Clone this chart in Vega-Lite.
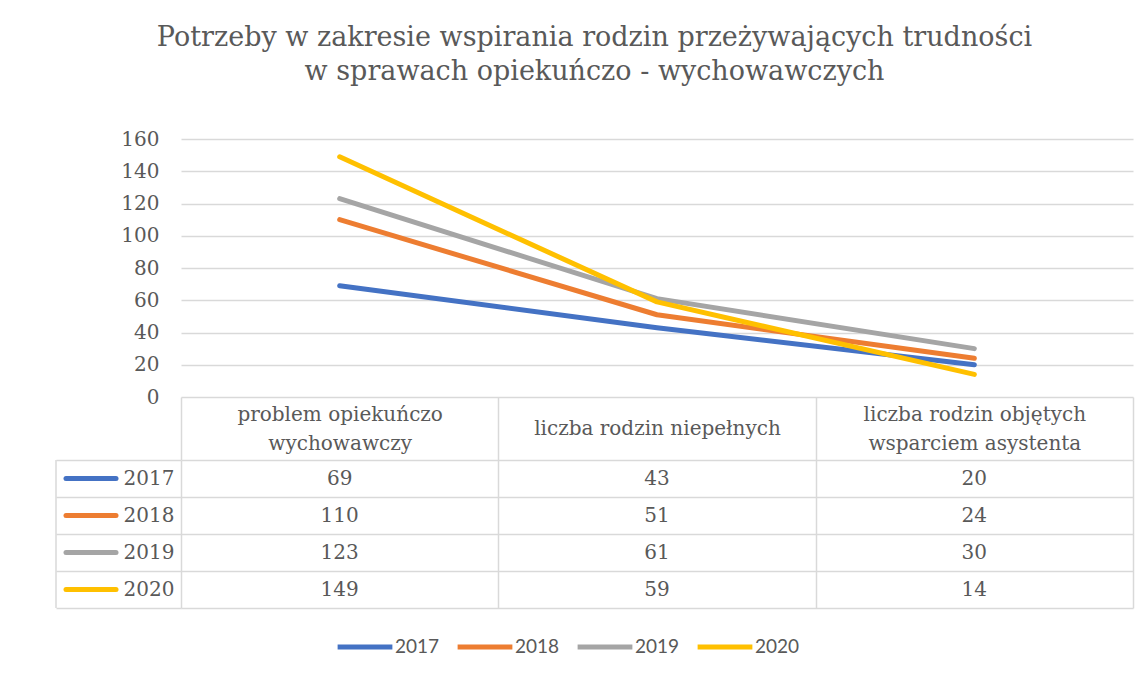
{
  "$schema": "https://vega.github.io/schema/vega-lite/v6.json",
  "background": "white",
  "padding": {"left": 55, "top": 24, "right": 10, "bottom": 5},
  "title": {
    "text": ["Potrzeby w zakresie wspirania rodzin przeżywających trudności", "w sprawach opiekuńczo - wychowawczych"],
    "anchor": "middle",
    "font": "DejaVu Serif",
    "fontSize": 27,
    "fontWeight": "normal",
    "color": "#595959",
    "lineHeight": 34,
    "offset": 43
  },
  "datasets": {
    "dane": [
      {"kategoria": "problem opiekuńczo wychowawczy", "rok": "2017", "wartosc": 69},
      {"kategoria": "liczba rodzin niepełnych", "rok": "2017", "wartosc": 43},
      {"kategoria": "liczba rodzin objętych wsparciem asystenta", "rok": "2017", "wartosc": 20},
      {"kategoria": "problem opiekuńczo wychowawczy", "rok": "2018", "wartosc": 110},
      {"kategoria": "liczba rodzin niepełnych", "rok": "2018", "wartosc": 51},
      {"kategoria": "liczba rodzin objętych wsparciem asystenta", "rok": "2018", "wartosc": 24},
      {"kategoria": "problem opiekuńczo wychowawczy", "rok": "2019", "wartosc": 123},
      {"kategoria": "liczba rodzin niepełnych", "rok": "2019", "wartosc": 61},
      {"kategoria": "liczba rodzin objętych wsparciem asystenta", "rok": "2019", "wartosc": 30},
      {"kategoria": "problem opiekuńczo wychowawczy", "rok": "2020", "wartosc": 149},
      {"kategoria": "liczba rodzin niepełnych", "rok": "2020", "wartosc": 59},
      {"kategoria": "liczba rodzin objętych wsparciem asystenta", "rok": "2020", "wartosc": 14}
    ]
  },
  "spacing": 63,
  "bounds": "flush",
  "resolve": {"scale": {"color": "shared"}},
  "vconcat": [
    {
      "width": 952,
      "height": 258,
      "data": {"name": "dane"},
      "mark": {"type": "line", "strokeWidth": 5, "strokeCap": "round", "strokeJoin": "round"},
      "encoding": {
        "x": {
          "field": "kategoria",
          "type": "nominal",
          "bandPosition": 0.5,
          "scale": {"type": "band", "paddingInner": 0, "paddingOuter": 0, "domain": ["problem opiekuńczo wychowawczy", "liczba rodzin niepełnych", "liczba rodzin objętych wsparciem asystenta"]},
          "axis": {
            "title": null,
            "orient": "bottom",
            "domain": false,
            "grid": false,
            "ticks": true,
            "tickBand": "extent",
            "tickSize": 63,
            "tickColor": "#d9d9d9",
            "tickWidth": 1.5,
            "labelAngle": 0,
            "labelPadding": -46,
            "labelBaseline": {"condition": {"test": "indexof(datum.value + '', 'niepełnych') >= 0", "value": "line-top"}, "value": "middle"},
            "labelAlign": "center",
            "labelLineHeight": 29,
            "labelLimit": 0,
            "labelFont": "DejaVu Serif",
            "labelFontSize": 20,
            "labelColor": "#595959",
            "labelOverlap": false,
            "labelFlush": false,
            "labelBound": false,
            "labelExpr": "indexof(datum.label, 'opiekuńczo ') >= 0 ? ['problem opiekuńczo', 'wychowawczy'] : (indexof(datum.label, 'objętych ') >= 0 ? ['liczba rodzin objętych', 'wsparciem asystenta'] : datum.label)"
          }
        },
        "y": {
          "field": "wartosc",
          "type": "quantitative",
          "scale": {"domain": [0, 160], "nice": false},
          "axis": {
            "title": null,
            "values": [0, 20, 40, 60, 80, 100, 120, 140, 160],
            "domain": false,
            "ticks": false,
            "labelPadding": 22,
            "labelFont": "DejaVu Serif",
            "labelFontSize": 20,
            "labelColor": "#595959",
            "gridColor": "#d9d9d9",
            "gridWidth": 1.5
          }
        },
        "color": {
          "field": "rok",
          "type": "nominal",
          "scale": {"domain": ["2017", "2018", "2019", "2020"], "range": ["#4472C4", "#ED7D31", "#A5A5A5", "#FFC000"]},
          "legend": {
            "title": null,
            "orient": "none",
            "direction": "horizontal",
            "legendX": 154,
            "legendY": 478,
            "symbolType": "stroke",
            "symbolStrokeWidth": 5,
            "symbolSize": 3000,
            "labelFont": "Lato",
            "labelFontSize": 19,
            "labelColor": "#595959",
            "labelOffset": 0,
            "columnPadding": 7
          }
        }
      }
    },
    {
      "width": 952,
      "height": 148,
      "data": {"name": "dane"},
      "encoding": {
        "y": {
          "field": "rok",
          "type": "nominal",
          "scale": {"type": "band", "paddingInner": 0, "paddingOuter": 0, "domain": ["2017", "2018", "2019", "2020"]},
          "axis": {
            "title": null,
            "domain": false,
            "grid": true,
            "tickBand": "extent",
            "ticks": true,
            "tickSize": 125,
            "tickColor": "#d9d9d9",
            "tickWidth": 1.5,
            "gridColor": "#d9d9d9",
            "gridWidth": 1.5,
            "labelPadding": -118,
            "labelFont": "DejaVu Serif",
            "labelFontSize": 20,
            "labelColor": "#595959",
            "labelAlign": "right",
            "labelBaseline": "middle"
          }
        }
      },
      "layer": [
        {
          "mark": {"type": "text", "font": "DejaVu Serif", "fontSize": 20, "color": "#595959", "baseline": "middle"},
          "encoding": {
            "x": {
              "field": "kategoria",
              "type": "nominal",
              "bandPosition": 0.5,
              "scale": {"type": "band", "paddingInner": 0, "paddingOuter": 0, "domain": ["problem opiekuńczo wychowawczy", "liczba rodzin niepełnych", "liczba rodzin objętych wsparciem asystenta"]},
              "axis": {
                "title": null,
                "orient": "top",
                "labels": false,
                "ticks": false,
                "domain": false,
                "grid": true,
                "tickBand": "extent",
                "gridColor": "#d9d9d9",
                "gridWidth": 1.5
              }
            },
            "text": {"field": "wartosc", "type": "quantitative"}
          }
        },
        {
          "transform": [{"filter": "datum.kategoria === 'problem opiekuńczo wychowawczy'"}],
          "mark": {"type": "rule", "strokeWidth": 5, "strokeCap": "round", "xOffset": -115, "x2Offset": -65},
          "encoding": {
            "x": {"datum": "problem opiekuńczo wychowawczy", "bandPosition": 0},
            "x2": {"datum": "problem opiekuńczo wychowawczy", "bandPosition": 0},
            "color": {
              "field": "rok",
              "type": "nominal",
              "legend": {
                "title": null,
                "orient": "none",
                "direction": "horizontal",
                "legendX": 154,
                "legendY": 478,
                "symbolType": "stroke",
                "symbolStrokeWidth": 5,
                "symbolSize": 3000,
                "labelFont": "Lato",
                "labelFontSize": 19,
                "labelColor": "#595959",
                "labelOffset": 0,
                "columnPadding": 7
              }
            }
          }
        },
        {
          "data": {"values": [{"krawedz": "lewa"}]},
          "mark": {"type": "rule", "strokeWidth": 1.5, "color": "#d9d9d9", "xOffset": -125},
          "encoding": {
            "x": {"datum": "problem opiekuńczo wychowawczy", "bandPosition": 0},
            "y": null
          }
        }
      ]
    }
  ],
  "config": {
    "view": {"stroke": null},
    "axis": {"labelFont": "DejaVu Serif"}
  }
}
